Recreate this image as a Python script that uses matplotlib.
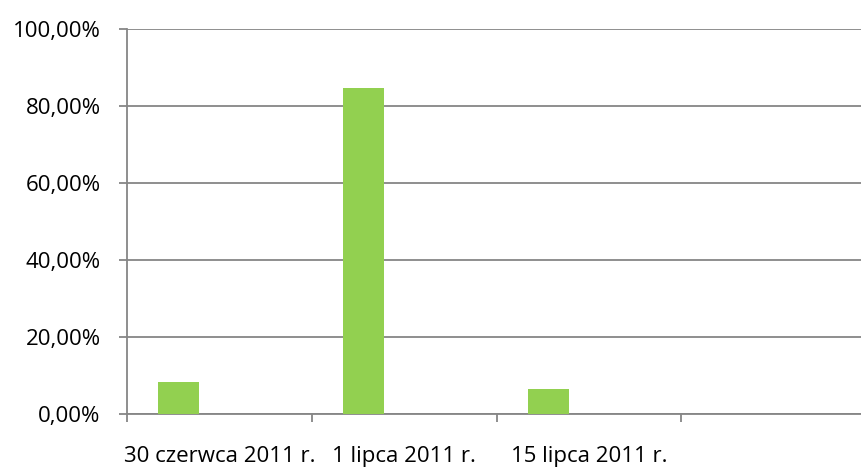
import numpy as np
import matplotlib.pyplot as plt
from matplotlib.ticker import FuncFormatter

# Data
categories = ["30 czerwca 2011 r.", "1 lipca 2011 r.", "15 lipca 2011 r.", ""]
values = [0.083, 0.847, 0.065, 0.0]
y_ticks = [0.0, 0.2, 0.4, 0.6, 0.8, 1.0]

plt.rcParams['font.family'] = ['Open Sans', 'DejaVu Sans']

fig = plt.figure(figsize=(8.61, 4.69), dpi=100)
ax = fig.add_axes([127 / 861, 55 / 469, 739 / 861, 385 / 469])

x = np.arange(len(categories))
ax.bar(x - 0.221, values, width=0.222, color='#92D050', zorder=3)

ax.set_xlim(-0.5, len(categories) - 0.5)
ax.set_ylim(0, 1.0)
ax.set_yticks(y_ticks)
ax.yaxis.set_major_formatter(FuncFormatter(lambda v, p: f"{v * 100:.2f}%".replace('.', ',')))
ax.set_xticks(x)
ax.set_xticklabels(categories)
ax.set_xticks(np.arange(len(categories) + 1) - 0.5, minor=True)

grey = '#868686'
ax.grid(axis='y', color=grey, linewidth=1.3, zorder=0)
for side in ['top', 'right']:
    ax.spines[side].set_visible(False)
for side in ['left', 'bottom']:
    ax.spines[side].set_color(grey)
    ax.spines[side].set_linewidth(1.3)

ax.tick_params(axis='y', length=6, width=1.3, color=grey, pad=13, labelsize=16)
ax.tick_params(axis='x', which='major', length=0, pad=23, labelsize=16)
ax.tick_params(axis='x', which='minor', length=6, width=1.3, color=grey)

fig.savefig('out.png', dpi=100)
